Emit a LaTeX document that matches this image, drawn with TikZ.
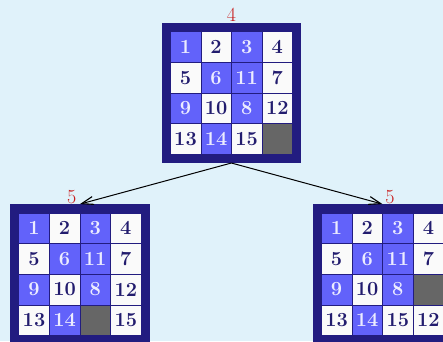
\documentclass[tikz,border=0pt]{standalone}
\usepackage{fontspec}
\usetikzlibrary{calc,arrows.meta}
\definecolor{bgsky}{RGB}{224,242,250}
\definecolor{framenavy}{RGB}{34,28,128}
\definecolor{tileblue}{RGB}{98,98,250}
\definecolor{tilewhite}{RGB}{250,250,250}
\definecolor{blankgrey}{RGB}{102,102,102}
\definecolor{inknavy}{RGB}{34,28,110}
\definecolor{inklight}{RGB}{236,236,255}
\definecolor{costred}{RGB}{200,28,28}
\tikzset{
  board/.style={rectangle, inner sep=0pt, minimum size=139.8pt, fill=framenavy},
  tile/.style={rectangle, inner sep=0pt, minimum size=30.6pt, draw=framenavy,
    line width=0.6pt, font=\fontsize{20}{22}\selectfont\bfseries},
  bluetile/.style={tile, fill=tileblue, text=inklight},
  whitetile/.style={tile, fill=tilewhite, text=inknavy},
  blanktile/.style={tile, fill=blankgrey},
  costlabel/.style={anchor=base, inner sep=0pt, text=costred,
    font=\fontsize{20}{22}\selectfont},
  move/.style={line width=1pt, black, -{Straight Barb[length=12pt,width=8pt,line width=1.1pt]}},
}
% one 15-puzzle board: name, centre x, centre y, tiles row by row (0 = blank)
\newcommand\puzzleboard[4]{%
  \node[board] (#1) at (#2,#3) {};
  \foreach \t [count=\k from 0] in {#4} {
    \pgfmathtruncatemacro\prow{div(\k,4)}
    \pgfmathtruncatemacro\pcol{mod(\k,4)}
    \ifnum\t=0
      \node[blanktile] (#1-\k) at ($(#1)+(\pcol*30.6-45.9,\prow*30.6-45.9)$) {};
    \else
      \pgfmathtruncatemacro\pshade{mod(div(\t-1,4)+mod(\t-1,4),2)}
      \ifnum\pshade=0
        \node[bluetile] (#1-\k) at ($(#1)+(\pcol*30.6-45.9,\prow*30.6-45.9)$) {\t};
      \else
        \node[whitetile] (#1-\k) at ($(#1)+(\pcol*30.6-45.9,\prow*30.6-45.9)$) {\t};
      \fi
    \fi
  }%
}
\begin{document}
\begin{tikzpicture}[x=1pt, y=-1pt]
  \useasboundingbox (0,0) rectangle (443,341);
  \fill[bgsky] (0,0) rectangle (443,341);

  \puzzleboard{root}{231.4}{92.9}{1,2,3,4,5,6,11,7,9,10,8,12,13,14,15,0}
  \puzzleboard{left}{79.9}{274.2}{1,2,3,4,5,6,11,7,9,10,8,12,13,14,0,15}
  \puzzleboard{right}{382.5}{274.2}{1,2,3,4,5,6,11,7,9,10,8,0,13,14,15,12}

  \node[costlabel] (rootcost) at (231.4,21) {4};
  \node[costlabel] (leftcost) at (71.7,203) {5};
  \node[costlabel] (rightcost) at (390,203) {5};

  \draw[move] (root.south) -- (left.north);
  \draw[move] (root.south) -- (right.north);
\end{tikzpicture}
\end{document}
